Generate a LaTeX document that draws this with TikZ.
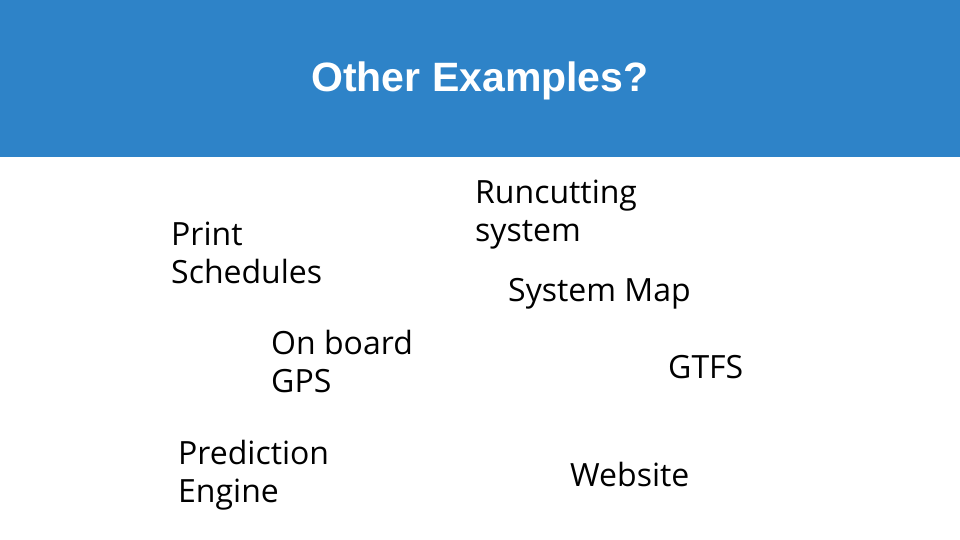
\documentclass[tikz,border=0pt]{standalone}
\usepackage{fontspec}
\setmainfont{Open Sans}
\newfontfamily\titlefont{Liberation Sans}
\definecolor{hdr}{HTML}{2E83C8}
\tikzset{item/.style={anchor=north west,inner sep=0pt,align=left,font=\fontsize{32}{38}\selectfont}}
\begin{document}
\begin{tikzpicture}[x=1pt,y=-1pt]
\useasboundingbox (0,0) rectangle (960,540);
\fill[hdr] (0,0) rectangle (960,157);
\node[font=\titlefont\bfseries\fontsize{41}{44}\selectfont,text=white] (title) at (480,81) {Other Examples?};
\node[item] (print) at (171,222) {Print\\Schedules};
\node[item] (gps) at (271,330) {On board\\GPS};
\node[item] (pred) at (178,440) {Prediction\\Engine};
\node[item] (run) at (475,180) {Runcutting\\system};
\node[item] (map) at (508,278) {System Map};
\node[item] (gtfs) at (668,355) {GTFS};
\node[item] (web) at (570,462) {Website};
\end{tikzpicture}
\end{document}
